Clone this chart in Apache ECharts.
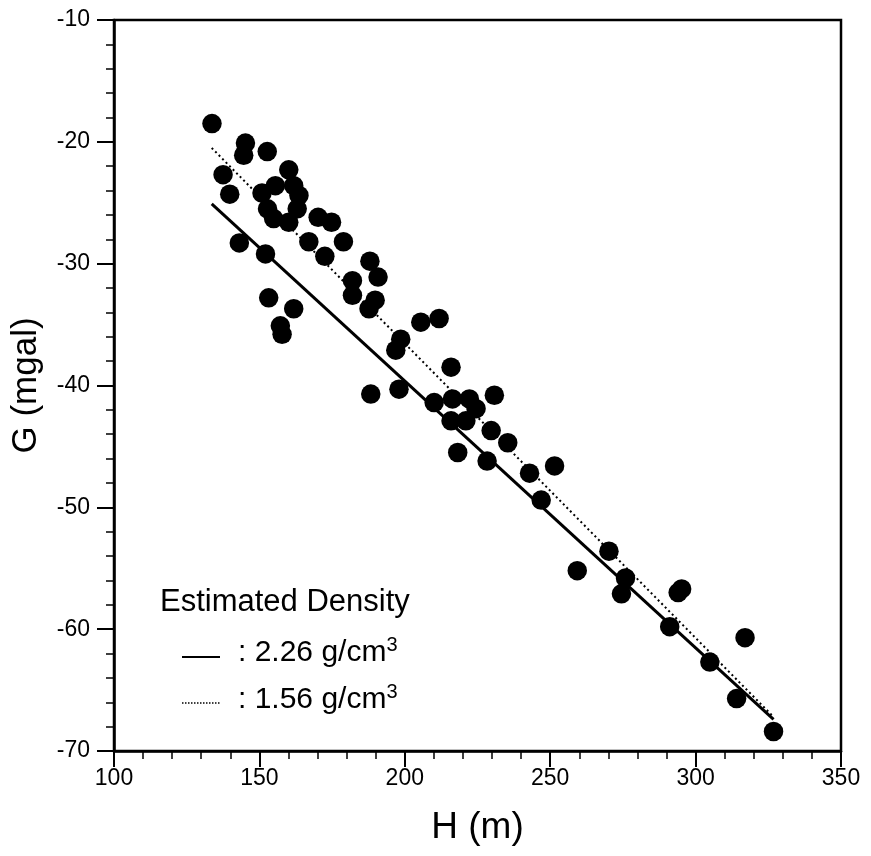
<!DOCTYPE html>
<html>
<head>
<meta charset="utf-8">
<script src="https://cdn.jsdelivr.net/npm/echarts@6/dist/echarts.min.js"></script>
<style>html,body{margin:0;padding:0;background:#fff}#c{width:871px;height:856px}</style>
</head>
<body>
<div id="c"></div>
<script>
// Observed data: elevation H (m) and gravity G (mgal)
const hVals = [133.7,145.2,144.6,152.7,160.1,137.5,139.8,150.9,155.5,161.8,163.6,163.0,160.1,154.9,152.8,
  170.2,174.8,167.0,172.5,178.9,188.0,182.0,190.8,182.0,189.8,187.7,143.1,152.1,153.2,161.8,157.2,157.8,
  205.5,211.8,198.6,196.9,188.3,198.0,215.9,210.1,216.4,222.2,224.5,215.9,221.0,230.8,229.7,235.4,218.2,
  228.3,242.9,251.5,246.9,259.3,270.2,275.9,274.5,294.0,295.2,291.1,304.9,317.0,314.1,326.8];
const gVals = [-18.5,-20.1,-21.1,-20.8,-22.3,-22.7,-24.3,-24.2,-23.6,-23.6,-24.4,-25.5,-26.6,-26.3,-25.5,
  -26.2,-26.6,-28.2,-29.4,-28.2,-29.8,-31.4,-31.1,-32.6,-33.0,-33.7,-28.3,-29.2,-32.8,-33.7,-35.1,-35.8,
  -34.8,-34.5,-36.2,-37.1,-40.7,-40.3,-38.5,-41.4,-41.1,-41.1,-41.9,-42.9,-42.9,-40.8,-43.7,-44.7,-45.5,
  -46.2,-47.2,-46.6,-49.4,-55.2,-53.6,-55.8,-57.1,-57.0,-56.7,-59.8,-62.7,-60.7,-65.7,-68.4];
// Fitted lines
const fitH = [133.6, 326.8];
const fitSolidG = [-25.1, -67.4];   // 2.26 g/cm3
const fitDottedG = [-20.5, -67.2];  // 1.56 g/cm3
const xTicks = [100,150,200,250,300,350];
const yTicks = [-70,-60,-50,-40,-30,-20,-10];

const FONT = '"Liberation Sans", Arial, Helvetica, sans-serif';
const chart = echarts.init(document.getElementById('c'));
const pts = hVals.map((h,i)=>[h,gVals[i]]);
chart.setOption({
  animation:false,
  backgroundColor:'#fff',
  grid:{left:114,right:30,top:20,bottom:105,show:true,borderColor:'#000',borderWidth:2.5,backgroundColor:'transparent'},
  xAxis:{type:'value',min:xTicks[0],max:xTicks[xTicks.length-1],interval:50,
    name:'H (m)',nameLocation:'middle',nameGap:58,
    nameTextStyle:{fontFamily:FONT,fontSize:37,color:'#000'},
    axisLine:{lineStyle:{color:'#000',width:2.5}},
    axisTick:{length:16,lineStyle:{color:'#000',width:2}},
    minorTick:{show:true,splitNumber:5,length:8,lineStyle:{color:'#000',width:1.5}},
    splitLine:{show:false},
    axisLabel:{margin:16,fontFamily:FONT,fontSize:23,color:'#000'}},
  yAxis:{type:'value',min:yTicks[0],max:yTicks[yTicks.length-1],interval:10,
    name:'G (mgal)',nameLocation:'middle',nameGap:70,nameRotate:90,
    nameTextStyle:{fontFamily:FONT,fontSize:35,color:'#000'},
    axisLine:{onZero:false,lineStyle:{color:'#000',width:2.5}},
    axisTick:{length:17,lineStyle:{color:'#000',width:2}},
    minorTick:{show:true,splitNumber:5,length:8,lineStyle:{color:'#000',width:1.5}},
    splitLine:{show:false},
    axisLabel:{margin:24,fontFamily:FONT,fontSize:23,color:'#000'}},
  series:[
    {type:'scatter',data:pts,symbolSize:19.5,itemStyle:{color:'#000',opacity:1},z:2},
    {type:'line',data:fitH.map((h,i)=>[h,fitSolidG[i]]),symbol:'none',lineStyle:{color:'#000',width:3},z:3},
    {type:'line',data:fitH.map((h,i)=>[h,fitDottedG[i]]),symbol:'none',lineStyle:{color:'#000',width:2,type:[2,3]},z:3}
  ],
  graphic:[
    {type:'text',left:160,top:587,style:{text:'Estimated Density',font:'31px '+FONT,fill:'#000'}},
    {type:'line',shape:{x1:182,y1:657,x2:220,y2:657},style:{stroke:'#000',lineWidth:2}},
    {type:'line',shape:{x1:182,y1:703,x2:220,y2:703},style:{stroke:'#000',lineWidth:1.5,lineDash:[1.5,1.5]}},
    {type:'text',left:238,top:635,style:{text:'{a|: 2.26 g/cm}{s|3}',rich:{a:{fontFamily:FONT,fontSize:30,fill:'#000',lineHeight:36},s:{fontFamily:FONT,fontSize:20,fill:'#000',verticalAlign:'top',lineHeight:36}}}},
    {type:'text',left:238,top:682,style:{text:'{a|: 1.56 g/cm}{s|3}',rich:{a:{fontFamily:FONT,fontSize:30,fill:'#000',lineHeight:36},s:{fontFamily:FONT,fontSize:20,fill:'#000',verticalAlign:'top',lineHeight:36}}}}
  ]
});
</script>
</body>
</html>
